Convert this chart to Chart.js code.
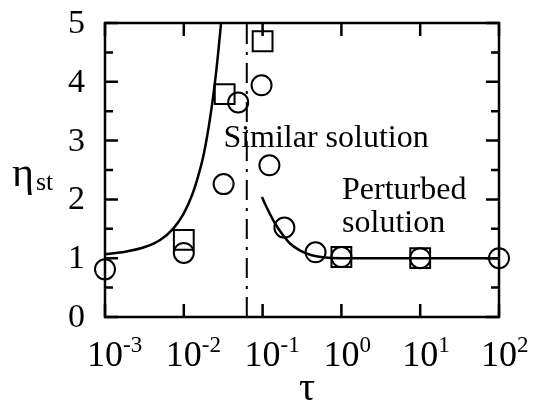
<!DOCTYPE html>
<html>
<head>
<meta charset="utf-8">
<script src="https://cdn.jsdelivr.net/npm/chart.js@4.4.1/dist/chart.umd.min.js"></script>
<style>
  body { margin: 0; background: #fff; }
  #wrap { width: 538px; height: 412px; }
</style>
</head>
<body>
<div id="wrap"><canvas id="chartEta"></canvas></div>
<script>
// measured points (circles / squares)
const circleTau = [0.001, 0.01, 0.032, 0.049, 0.097, 0.122, 0.189, 0.47, 1, 10, 100];
const circleEta = [0.81, 1.09, 2.26, 3.65, 3.94, 2.58, 1.52, 1.1, 1.02, 1.0, 1.0];
const squareTau = [0.01, 0.033, 0.1, 1, 10];
const squareEta = [1.31, 3.79, 4.69, 1.02, 1.0];

// solid curves
const leftTau = [0.001, 0.0018, 0.0032, 0.005, 0.0073, 0.0098, 0.0127, 0.0151, 0.0176, 0.0197, 0.0221, 0.0249, 0.0272, 0.0297];
const leftEta = [1.07, 1.11, 1.19, 1.31, 1.5, 1.74, 2.07, 2.38, 2.72, 3.06, 3.48, 4.0, 4.47, 5.0];
const rightTau = [0.098, 0.117, 0.144, 0.182, 0.223, 0.3, 0.42, 0.62, 1, 100];
const rightEta = [2.04, 1.82, 1.59, 1.39, 1.25, 1.13, 1.05, 1.01, 1.0, 1.0];

// dash-dot boundary
const boundaryTau = [0.063, 0.063];
const boundaryEta = [0, 5];

// axes
const xTickValues = [0.001, 0.01, 0.1, 1, 10, 100];
const xTickExps = ['-3', '-2', '-1', '0', '1', '2'];
const yTickValues = [0, 1, 2, 3, 4, 5];
const yMinorValues = [0.5, 1.5, 2.5, 3.5, 4.5];

const SERIF = '"Liberation Serif", "Times New Roman", serif';
const toPoints = (xs, ys) => xs.map((x, i) => ({ x: x, y: ys[i] }));

const frameTicks = {
  id: 'frameTicks',
  afterDraw(chart) {
    const { ctx, chartArea: a, scales } = chart;
    const xs = scales.x, ys = scales.y;
    ctx.save();
    ctx.strokeStyle = '#000';
    ctx.lineWidth = 2.5;
    ctx.strokeRect(a.left, a.top, a.right - a.left, a.bottom - a.top);
    ctx.beginPath();
    xTickValues.forEach(v => {
      const px = xs.getPixelForValue(v);
      ctx.moveTo(px, a.bottom); ctx.lineTo(px, a.bottom - 13);
      ctx.moveTo(px, a.top); ctx.lineTo(px, a.top + 13);
    });
    yTickValues.forEach(v => {
      const py = ys.getPixelForValue(v);
      ctx.moveTo(a.left, py); ctx.lineTo(a.left + 13, py);
      ctx.moveTo(a.right, py); ctx.lineTo(a.right - 13, py);
    });
    yMinorValues.forEach(v => {
      const py = ys.getPixelForValue(v);
      ctx.moveTo(a.left, py); ctx.lineTo(a.left + 8, py);
      ctx.moveTo(a.right, py); ctx.lineTo(a.right - 8, py);
    });
    ctx.stroke();

    ctx.fillStyle = '#000';
    // y tick labels
    ctx.font = '34px ' + SERIF;
    ctx.textAlign = 'right';
    ctx.textBaseline = 'middle';
    yTickValues.forEach(v => ctx.fillText(String(v), a.left - 20, ys.getPixelForValue(v) + 1));

    // x tick labels, 10 with superscript
    ctx.textBaseline = 'alphabetic';
    xTickValues.forEach((v, i) => {
      const px = xs.getPixelForValue(v);
      ctx.font = '36px ' + SERIF;
      ctx.textAlign = 'center';
      ctx.fillText('10', px, a.bottom + 49);
      const w = ctx.measureText('10').width;
      ctx.font = '23px ' + SERIF;
      ctx.textAlign = 'left';
      ctx.fillText(xTickExps[i], px + w / 2, a.bottom + 35);
    });

    // axis titles
    ctx.font = '42px ' + SERIF;
    ctx.textAlign = 'left';
    ctx.fillText('η', 12, 186);
    ctx.font = '26px ' + SERIF;
    ctx.fillText('st', 36, 190);
    ctx.font = '40px ' + SERIF;
    ctx.textAlign = 'center';
    ctx.fillText('τ', (a.left + a.right) / 2 + 5, 400);

    // annotations
    ctx.font = '32px ' + SERIF;
    ctx.textAlign = 'left';
    ctx.fillText('Similar solution', xs.getPixelForValue(0.0318), ys.getPixelForValue(2.89));
    ctx.fillText('Perturbed', xs.getPixelForValue(1.02), ys.getPixelForValue(2.0));
    ctx.fillText('solution', xs.getPixelForValue(1.02), ys.getPixelForValue(1.45));
    ctx.restore();
  }
};

const ctx = document.getElementById('chartEta').getContext('2d');
const chartEta = new Chart(ctx, {
  type: 'scatter',
  data: {
    datasets: [
      {
        label: 'circles',
        data: toPoints(circleTau, circleEta),
        pointStyle: 'circle',
        pointRadius: 10,
        pointBorderWidth: 2,
        pointBorderColor: '#000',
        pointBackgroundColor: 'rgba(0,0,0,0)',
        showLine: false,
        clip: false
      },
      {
        label: 'squares',
        data: toPoints(squareTau, squareEta),
        pointStyle: 'rect',
        pointRadius: 14,
        pointBorderWidth: 2,
        pointBorderColor: '#000',
        pointBackgroundColor: 'rgba(0,0,0,0)',
        showLine: false,
        clip: false
      },
      {
        label: 'similar',
        data: toPoints(leftTau, leftEta),
        showLine: true,
        borderColor: '#000',
        borderWidth: 2.5,
        pointRadius: 0,
        cubicInterpolationMode: 'monotone',
        clip: false
      },
      {
        label: 'perturbed',
        data: toPoints(rightTau, rightEta),
        showLine: true,
        borderColor: '#000',
        borderWidth: 2.5,
        pointRadius: 0,
        cubicInterpolationMode: 'monotone',
        clip: false
      },
      {
        label: 'boundary',
        data: toPoints(boundaryTau, boundaryEta),
        showLine: true,
        borderColor: '#000',
        borderWidth: 2,
        borderDash: [20, 8, 3, 8],
        pointRadius: 0
      }
    ]
  },
  options: {
    responsive: true,
    maintainAspectRatio: false,
    animation: false,
    layout: { padding: { left: 105, right: 39, top: 23, bottom: 95 } },
    plugins: { legend: { display: false }, tooltip: { enabled: false } },
    scales: {
      x: {
        type: 'logarithmic',
        min: 0.001,
        max: 100,
        grid: { display: false },
        border: { display: false },
        ticks: { display: false },
        afterFit: s => { s.height = 0; }
      },
      y: {
        type: 'linear',
        min: 0,
        max: 5,
        grid: { display: false },
        border: { display: false },
        ticks: { display: false },
        afterFit: s => { s.width = 0; }
      }
    }
  },
  plugins: [frameTicks]
});
</script>
</body>
</html>
